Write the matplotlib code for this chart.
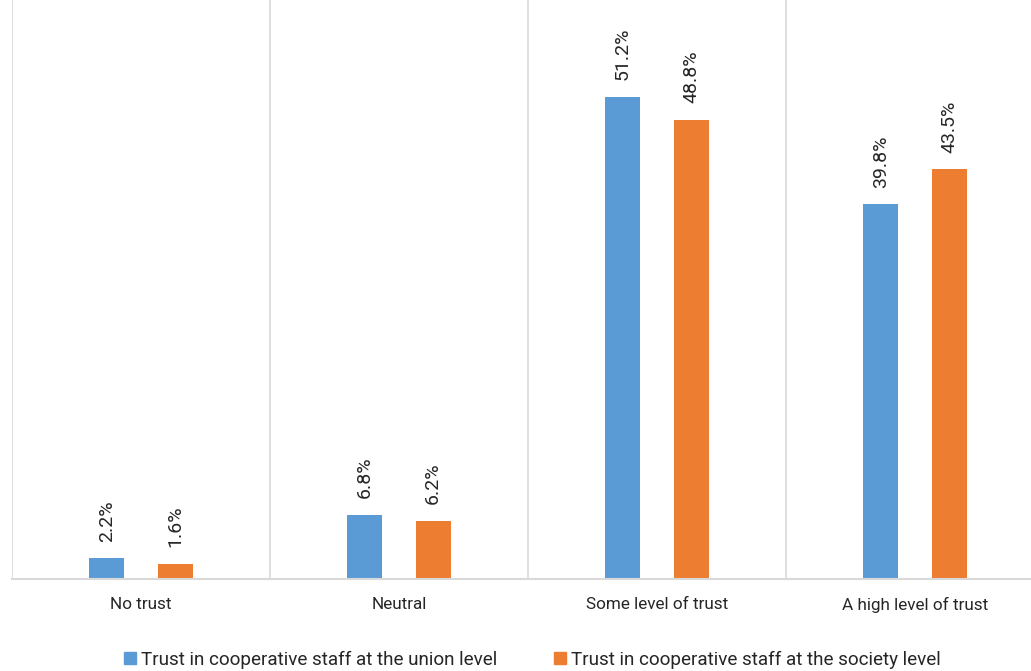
import numpy as np
import matplotlib.pyplot as plt
from matplotlib.patches import Patch

categories = ["No trust", "Neutral", "Some level of trust", "A high level of trust"]
union_level = [2.2, 6.8, 51.2, 39.8]
society_level = [1.6, 6.2, 48.8, 43.5]
series_names = ["Trust in cooperative staff at the union level",
                "Trust in cooperative staff at the society level"]

BLUE = "#5b9bd5"
ORANGE = "#ed7d31"
GRID = "#d9d9d9"
TEXT = "#262626"

plt.rcParams["font.family"] = ["Roboto", "DejaVu Sans"]


def main():
    fig = plt.figure(figsize=(10.31, 6.71), dpi=100)
    ax = fig.add_axes([12 / 1031, 92 / 671, 1032 / 1031, 579 / 671])

    x = np.arange(len(categories))
    w = 0.136
    off = 0.132
    b1 = ax.bar(x - off, union_level, w, color=BLUE)
    b2 = ax.bar(x + off, society_level, w, color=ORANGE)

    # value labels, rotated
    for bars, vals in ((b1, union_level), (b2, society_level)):
        for rect, v in zip(bars, vals):
            ax.annotate(f"{v:.1f}%", (rect.get_x() + rect.get_width() / 2, v),
                        xytext=(0, 12), textcoords="offset points",
                        rotation=90, ha="center", va="bottom",
                        fontsize=14, color=TEXT)

    ax.set_xlim(-0.5, len(categories) - 0.5)
    ax.set_ylim(0, 61.5)

    # category separators
    for b in np.arange(-0.5, len(categories) + 0.5, 1):
        ax.axvline(b, color=GRID, lw=1.2, zorder=0)

    for s in ["top", "right", "left"]:
        ax.spines[s].set_visible(False)
    ax.spines["bottom"].set_color(GRID)
    ax.spines["bottom"].set_linewidth(1.5)
    ax.set_yticks([])
    ax.set_xticks(x)
    ax.set_xticklabels(categories, fontsize=12.3, color=TEXT)
    ax.tick_params(axis="x", length=0, pad=13)

    handles = [Patch(color=BLUE), Patch(color=ORANGE)]
    fig.legend(handles, series_names, loc="lower center", ncol=2,
               bbox_to_anchor=(0.516, -0.022), frameon=False, fontsize=13.6,
               handlelength=0.65, handleheight=0.65, handletextpad=0.25,
               columnspacing=3.0, labelcolor=TEXT)

    fig.savefig("out.png", dpi=100)
    plt.close(fig)


if __name__ == "__main__":
    main()
